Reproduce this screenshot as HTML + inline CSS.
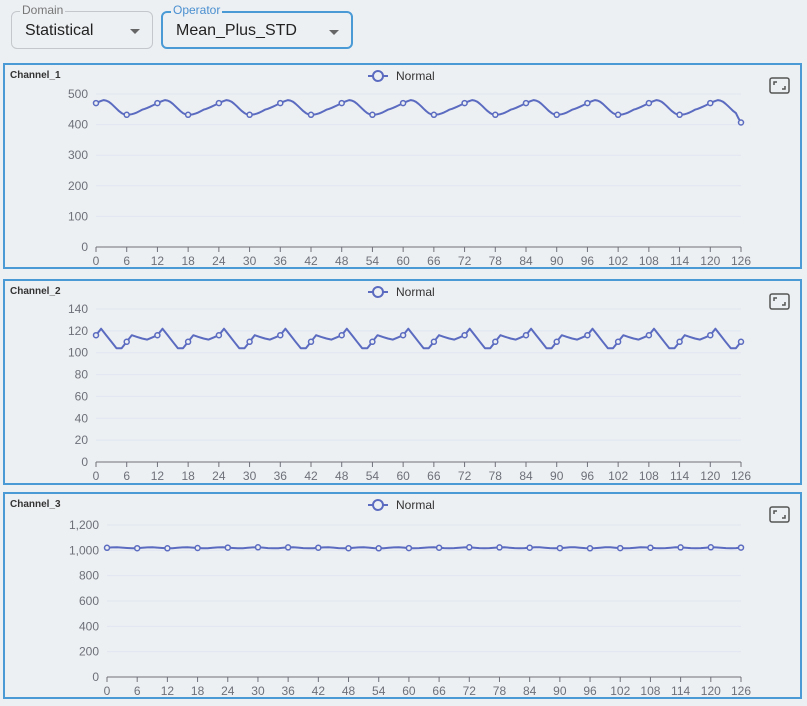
<!DOCTYPE html>
<html><head><meta charset="utf-8"><style>
body{margin:0;width:807px;height:706px;background:#edf0f3;font-family:"Liberation Sans",sans-serif;position:relative;overflow:hidden}
.sel{position:absolute;top:11px;height:38px;border:1px solid #c4c8cc;border-radius:6px;box-sizing:border-box}
.sel span{position:absolute;left:13px;top:10px;font-size:16px;color:#222}
.sel i{position:absolute;right:12px;top:17px;border-left:5px solid transparent;border-right:5px solid transparent;border-top:5px solid #666}
.sel b{position:absolute;top:-9px;left:8px;background:#edf0f3;padding:0 2px;font-weight:normal;font-size:12px;color:#777}
svg{position:absolute;left:0;top:0}
</style></head><body>
<div class="sel" style="left:11px;width:142px"><b>Domain</b><span>Statistical</span><i></i></div>
<div class="sel" style="left:161px;width:192px;border:2px solid #4a9ad6"><b style="color:#4a8fd0;top:-10px">Operator</b><span style="top:9px">Mean_Plus_STD</span><i></i></div>
<svg id="s" width="807" height="706" xmlns="http://www.w3.org/2000/svg" font-family="Liberation Sans, sans-serif"></svg>
<script>
var s=document.getElementById('s'),h='';
function panel(top,bot,name,x0,y0,ytop,ymax,step,fmt,f,res){
 h+='<rect x="4" y="'+top+'" width="797" height="'+(bot-top)+'" fill="none" stroke="#4a9ad6" stroke-width="2"/>';
 h+='<text x="10" y="'+(top+14)+'" font-size="10" font-weight="bold" fill="#333">'+name+'</text>';
 h+='<line x1="368" x2="388" y1="'+(top+12)+'" y2="'+(top+12)+'" stroke="#5b6bc0" stroke-width="2"/><circle cx="378" cy="'+(top+12)+'" r="5" fill="#edf0f3" stroke="#5b6bc0" stroke-width="2"/>';
 h+='<text x="396" y="'+(top+16)+'" font-size="12" fill="#333">Normal</text>';
 h+='<rect x="770" y="'+(top+14)+'" width="19" height="15" rx="2" fill="none" stroke="#555" stroke-width="1.5"/><path d="M774 '+(top+21)+'v-3h3M785 '+(top+22)+'v3h-3" stroke="#555" fill="none" stroke-width="1.5"/>';
 var x1=741;
 for(var v=0;v<=ymax;v+=step){var y=y0-(y0-ytop)*v/ymax;
  if(v>0)h+='<line x1="'+x0+'" x2="'+x1+'" y1="'+y+'" y2="'+y+'" stroke="#e0e6f1"/>';
  h+='<text x="'+(x0-8)+'" y="'+(y+4)+'" font-size="12" fill="#6e7079" text-anchor="end">'+fmt(v)+'</text>';}
 h+='<line x1="'+x0+'" x2="'+x1+'" y1="'+y0+'" y2="'+y0+'" stroke="#6e7079"/>';
 for(var i=0;i<=126;i+=6){var x=x0+(x1-x0)*i/126;
  h+='<line x1="'+x+'" x2="'+x+'" y1="'+y0+'" y2="'+(y0+5)+'" stroke="#6e7079"/><text x="'+x+'" y="'+(y0+18)+'" font-size="12" fill="#6e7079" text-anchor="middle">'+i+'</text>';}
 var p='',m='';
 for(var k=0;k<=126*res;k++){var i=k/res,x=x0+(x1-x0)*i/126,y=y0-(y0-ytop)*f(i)/ymax;p+=(k?'L':'M')+x.toFixed(1)+' '+y.toFixed(1);
  if(k%(6*res)==0)m+='<circle cx="'+x.toFixed(1)+'" cy="'+y.toFixed(1)+'" r="2.5" fill="#edf0f3" stroke="#5b6bc0" stroke-width="1.5"/>';}
 h+='<path d="'+p+'" fill="none" stroke="#5b6bc0" stroke-width="2" stroke-linejoin="round"/>'+m;
}
function f1(i){var t=((i-6)%12+12)%12,v;
 if(t<7.5)v=432+48*(1-Math.cos(Math.PI*t/7.5))/2;else v=480-48*(1-Math.cos(Math.PI*(t-7.5)/4.5))/2;
 v+= (t>3&&t<7.5)?-6*Math.sin(Math.PI*(t-3)/4.5):0;
 if(i>125)v-=25*(i-125);return v;}
function f2(i){var q=((i-13)%12+12)%12;
 return q<3?122-q*6:(q<4?104:(q<6?104+(q-4)*6:(q<9?116-(q-6)*1.5:(q<11.5?112+(q-9)*2:117+(q-11.5)*10))));}
function f3(i){return 1020+4*Math.sin(i*0.9);}
panel(64,268,'Channel_1',96,247,94,500,100,function(v){return v},f1,2);
panel(280,484,'Channel_2',96,462,309,140,20,function(v){return v},f2,1);
panel(493,698,'Channel_3',107,677,525,1200,200,function(v){return v>=1000?'1,'+String(v).slice(1):v},f3,1);
s.innerHTML=h;
</script>
</body></html>
